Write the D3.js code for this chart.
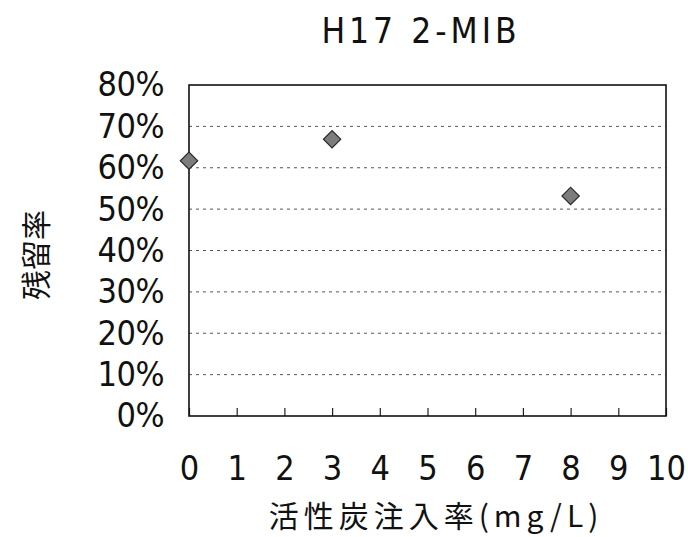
<!DOCTYPE html>
<html>
<head>
<meta charset="utf-8">
<script src="https://cdn.jsdelivr.net/npm/d3@7"></script>
<style>
  html, body { margin: 0; padding: 0; background: #fff; }
  svg { display: block; }
</style>
</head>
<body>
<svg id="chart" width="688" height="537"></svg>
<script>
// Residual ratio of 2-MIB versus powdered activated carbon dose
const doses = [0, 3, 8];
const residual = [0.617, 0.669, 0.532];
const xTicks = [0, 1, 2, 3, 4, 5, 6, 7, 8, 9, 10];
const yTicks = [0, 0.1, 0.2, 0.3, 0.4, 0.5, 0.6, 0.7, 0.8];
const titleText = "H17 2-MIB";
const xTitle = "活性炭注入率(mg/L)";
const yTitle = "残留率";

const svg = d3.select("#chart");
const margin = { left: 189, right: 22, top: 85, bottom: 121 };
const W = 688, H = 537;
const x = d3.scaleLinear().domain([0, 10]).range([margin.left, W - margin.right]);
const y = d3.scaleLinear().domain([0, 0.8]).range([H - margin.bottom, margin.top]);

const numFont = "'Liberation Sans Narrow', 'DejaVu Sans Condensed', 'Liberation Sans', sans-serif";
const jpFont = "'Noto Sans CJK JP', sans-serif";

// dashed horizontal gridlines
svg.append("g")
  .selectAll("line")
  .data(yTicks.filter(t => t > 0 && t < 0.8))
  .join("line")
  .attr("x1", x(0)).attr("x2", x(10))
  .attr("y1", d => y(d)).attr("y2", d => y(d))
  .attr("stroke", "#555")
  .attr("stroke-width", 1)
  .attr("stroke-dasharray", "3,4");

// y axis labels
const yAxis = d3.axisLeft(y)
  .tickValues(yTicks)
  .tickFormat(d3.format(".0%"))
  .tickSize(0)
  .tickPadding(25);
svg.append("g")
  .attr("transform", `translate(${x(0)},0)`)
  .call(yAxis)
  .call(g => g.select(".domain").remove())
  .selectAll("text")
  .attr("font-family", numFont)
  .attr("font-size", 34)
  .attr("letter-spacing", -0.5)
  .attr("fill", "#111");

// x axis: inward ticks and labels
const xAxis = d3.axisBottom(x)
  .tickValues(xTicks)
  .tickFormat(d3.format("d"))
  .tickSizeInner(-8)
  .tickSizeOuter(0)
  .tickPadding(40);
svg.append("g")
  .attr("transform", `translate(0,${y(0)})`)
  .call(xAxis)
  .call(g => g.select(".domain").remove())
  .call(g => g.selectAll("line").attr("stroke", "#222").attr("stroke-width", 1.2))
  .selectAll("text")
  .attr("font-family", numFont)
  .attr("font-size", 34)
  .attr("fill", "#111");

// plot frame
svg.append("rect")
  .attr("x", x(0)).attr("y", y(0.8))
  .attr("width", x(10) - x(0)).attr("height", y(0) - y(0.8))
  .attr("fill", "none")
  .attr("stroke", "#111")
  .attr("stroke-width", 1.6);

// data markers (diamonds)
const diamond = d3.symbol().type(d3.symbolSquare).size(150);
svg.append("g")
  .selectAll("path")
  .data(doses.map((d, i) => ({ dose: d, v: residual[i] })))
  .join("path")
  .attr("d", diamond)
  .attr("transform", d => `translate(${x(d.dose)},${y(d.v)}) rotate(45)`)
  .attr("fill", "#7d7d7d")
  .attr("stroke", "#2a2a2a")
  .attr("stroke-width", 1.2);

// chart title
svg.append("text")
  .attr("x", 421).attr("y", 43)
  .attr("text-anchor", "middle")
  .attr("font-family", numFont)
  .attr("font-size", 35)
  .attr("letter-spacing", 4)
  .attr("fill", "#111")
  .text(titleText);

// x axis title
svg.append("text")
  .attr("x", 436).attr("y", 527)
  .attr("text-anchor", "middle")
  .attr("font-family", jpFont)
  .attr("font-size", 30)
  .attr("letter-spacing", 5)
  .attr("fill", "#111")
  .text(xTitle);

// y axis title, rotated
svg.append("text")
  .attr("transform", "translate(47,255) rotate(-90)")
  .attr("text-anchor", "middle")
  .attr("font-family", jpFont)
  .attr("font-size", 30)
  .attr("fill", "#111")
  .text(yTitle);
</script>
</body>
</html>
